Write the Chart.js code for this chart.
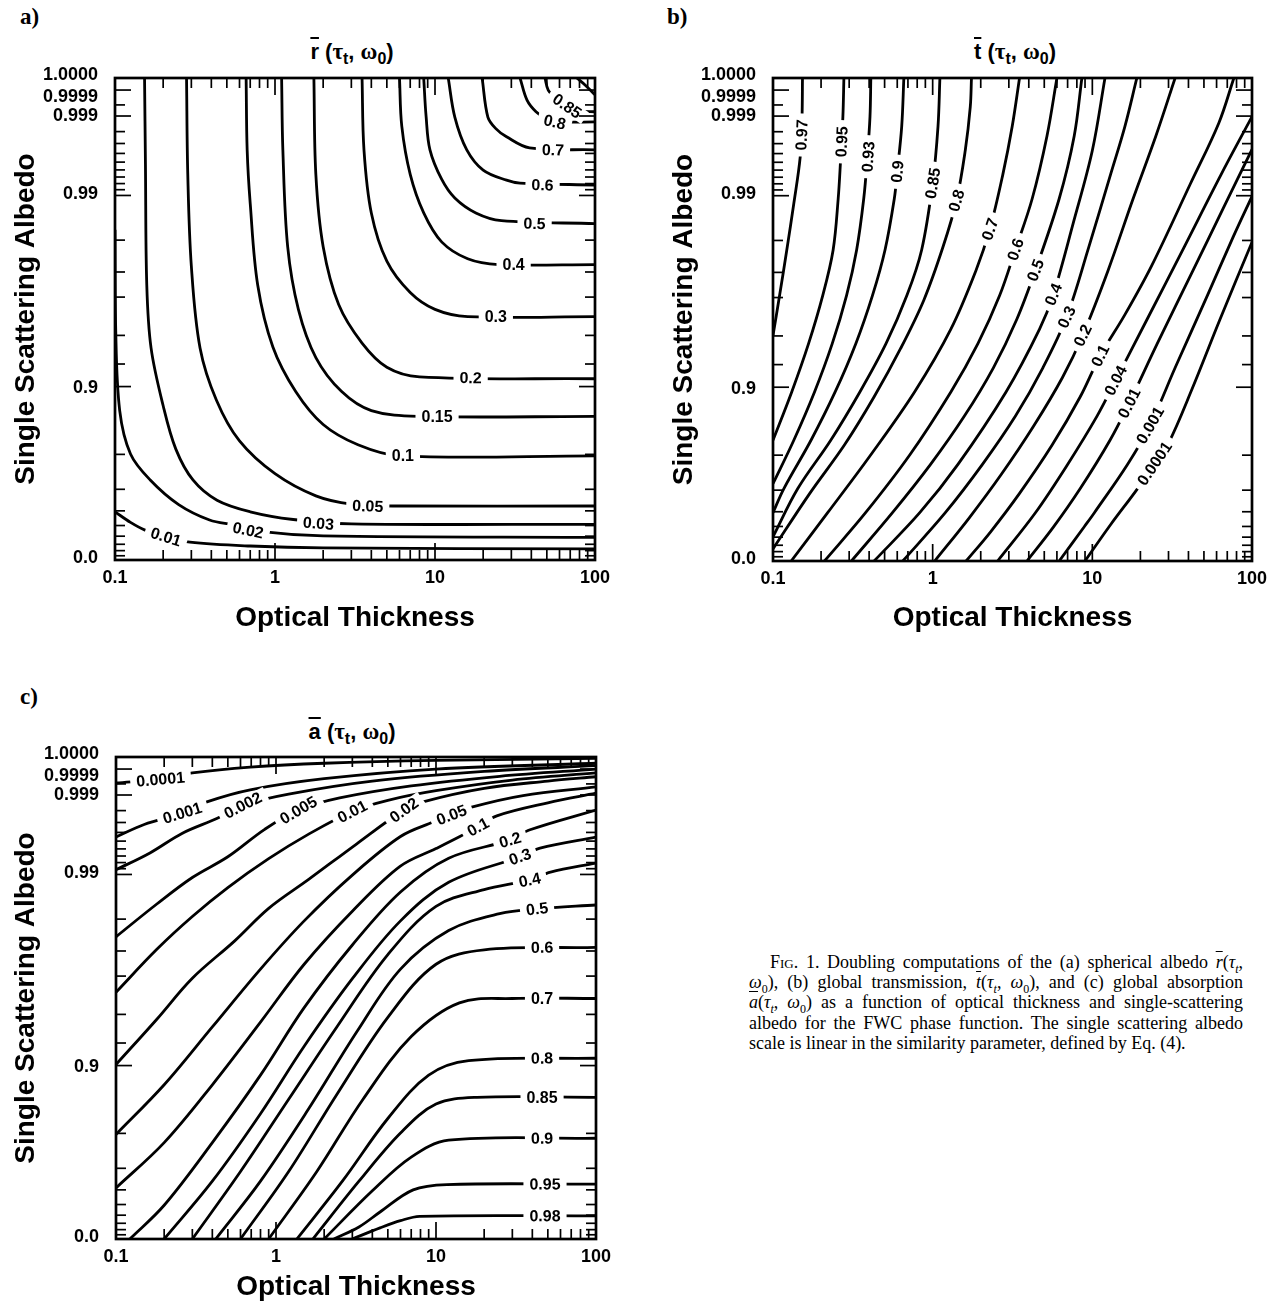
<!DOCTYPE html>
<html>
<head>
<meta charset="utf-8">
<script src="https://cdn.jsdelivr.net/npm/chart.js@4.4.0/dist/chart.umd.min.js"></script>
<style>
body { margin: 0; background: #fff; width: 1275px; height: 1312px; overflow: hidden; position: relative; }
canvas { position: absolute; }
.plab { position: absolute; font: bold 23px "Liberation Serif", serif; }
.ttl { position: absolute; font: bold 22px "Liberation Sans", sans-serif; transform: translateX(-50%); white-space: nowrap; }
.ttl .gr { font-family: "Liberation Serif", serif; font-weight: bold; font-size: 23px; }
.ttl sub { font-size: 16px; }
.ov { text-decoration: overline; }
.cap { position: absolute; left: 749px; top: 952px; width: 494px; font: 18px/20.2px "Liberation Serif", serif; color: #000; }
.cap div { text-align: justify; text-align-last: justify; white-space: nowrap; }
.cap div.last { text-align-last: left; }
.cap sub { font-size: 12px; line-height: 0; }
.sc { font-variant: small-caps; }
</style>
</head>
<body>
<div class="plab" style="left:20px;top:4px">a)</div>
<div class="plab" style="left:667px;top:4px">b)</div>
<div class="plab" style="left:20px;top:684px">c)</div>

<div class="ttl" style="left:352px;top:39px"><span class="ov">r</span> (<span class="gr">τ</span><sub>t</sub>, <span class="gr">ω</span><sub>0</sub>)</div>
<div class="ttl" style="left:1015px;top:39px"><span class="ov">t</span> (<span class="gr">τ</span><sub>t</sub>, <span class="gr">ω</span><sub>0</sub>)</div>
<div class="ttl" style="left:352px;top:719px"><span class="ov">a</span> (<span class="gr">τ</span><sub>t</sub>, <span class="gr">ω</span><sub>0</sub>)</div>

<canvas id="ca" width="620" height="650" style="left:0;top:0"></canvas>
<canvas id="cb" width="617" height="650" style="left:658px;top:0"></canvas>
<canvas id="cc" width="620" height="632" style="left:0;top:680px"></canvas>

<div class="cap">
<div style="padding-left:21px"><span class="sc">Fig</span>. 1. Doubling computations of the (a) spherical albedo <i class="ov">r</i>(<i>τ<sub>t</sub></i>,</div>
<div><i>ω</i><sub>0</sub>), (b) global transmission, <i class="ov">t</i>(<i>τ<sub>t</sub></i>, <i>ω</i><sub>0</sub>), and (c) global absorption</div>
<div><i class="ov">a</i>(<i>τ<sub>t</sub></i>, <i>ω</i><sub>0</sub>) as a function of optical thickness and single-scattering</div>
<div>albedo for the FWC phase function. The single scattering albedo</div>
<div class="last">scale is linear in the similarity parameter, defined by Eq. (4).</div>
</div>

<script>
// y axis is linear in the similarity parameter s = sqrt((1-w)/(1-g w)), s = 0 at the top (w = 1)
var G = 0.84;

var tauMajor = [0.1, 1, 10, 100];
var tauLabels = ['0.1', '1', '10', '100'];

var albedoMajor = [0, 0.9, 0.99, 0.999, 0.9999, 1];
var albedoLabels = ['0.0', '0.9', '0.99', '0.999', '0.9999', '1.0000'];
var albedoLabelY = [0.996, 0.643, 0.241, 0.079, 0.039, -0.006]; // where the labels sit (s)
var albedoMinor = [0.1, 0.2, 0.3, 0.4, 0.5, 0.6, 0.7, 0.8, 0.92, 0.94, 0.96, 0.97, 0.98,
    0.991, 0.992, 0.993, 0.994, 0.995, 0.996, 0.997, 0.998, 0.9995];

// ---- a) spherical albedo, points are [tau, s]
var rLevels = ['0.01', '0.02', '0.03', '0.05', '0.1', '0.15', '0.2', '0.3', '0.4', '0.5', '0.6', '0.7', '0.8', '0.85', ''];
var rCurves = [
    [[0.1, 0.90], [0.125, 0.922], [0.154, 0.938], [0.21, 0.952], [0.294, 0.963], [0.7, 0.971], [2, 0.975], [100, 0.977]],
    [[0.1, 0.315], [0.101, 0.52], [0.107, 0.69], [0.125, 0.78], [0.166, 0.834], [0.25, 0.885], [0.39, 0.917], [0.55, 0.927], [0.9, 0.942], [2, 0.95], [100, 0.953]],
    [[0.153, 0], [0.155, 0.18], [0.158, 0.43], [0.168, 0.56], [0.2, 0.68], [0.24, 0.77], [0.307, 0.834], [0.434, 0.876], [0.7, 0.9], [1.3, 0.916], [3, 0.925], [100, 0.926]],
    [[0.28, 0], [0.285, 0.2], [0.3, 0.39], [0.34, 0.56], [0.43, 0.668], [0.6, 0.753], [1, 0.821], [1.8, 0.867], [3, 0.884], [6, 0.888], [100, 0.888]],
    [[0.66, 0], [0.67, 0.15], [0.7, 0.26], [0.78, 0.43], [0.97, 0.558], [1.35, 0.651], [2, 0.719], [3.3, 0.761], [6, 0.784], [100, 0.784]],
    [[1.1, 0], [1.12, 0.15], [1.2, 0.35], [1.4, 0.48], [1.8, 0.58], [2.6, 0.65], [4, 0.69], [8, 0.702], [100, 0.702]],
    [[1.75, 0], [1.8, 0.2], [2, 0.35], [2.5, 0.47], [3.5, 0.55], [5, 0.6], [8, 0.62], [100, 0.624]],
    [[3.5, 0], [3.6, 0.15], [4, 0.28], [5, 0.38], [7, 0.445], [10, 0.48], [16, 0.495], [100, 0.495]],
    [[6, 0], [6.2, 0.1], [7, 0.2], [8.5, 0.28], [11, 0.34], [16, 0.375], [25, 0.387], [100, 0.387]],
    [[8.5, 0], [8.8, 0.08], [9.3, 0.149], [11, 0.21], [13.3, 0.249], [18, 0.28], [26, 0.296], [100, 0.302]],
    [[12.1, 0], [13.3, 0.081], [15.8, 0.149], [20, 0.191], [28, 0.212], [34, 0.218], [100, 0.222]],
    [[19.7, 0], [21.4, 0.081], [24, 0.105], [28, 0.122], [39, 0.145], [100, 0.149]],
    [[34, 0], [37.6, 0.046], [42.8, 0.07], [50, 0.085], [60, 0.091], [100, 0.091]],
    [[48.7, 0], [51, 0.025], [57, 0.042], [67, 0.058], [80, 0.068], [100, 0.07]],
    [[77, 0], [87, 0.015], [100, 0.035]]
];
var rLabelAt = [[0.208, 0.952], [0.68, 0.938], [1.87, 0.924], [3.8, 0.888], [6.3, 0.784], [10.3, 0.702], [16.7, 0.622],
    [24, 0.495], [31, 0.387], [41.9, 0.302], [47, 0.222], [54.6, 0.149], [56, 0.091], [67, 0.058], null];

// ---- b) global transmission
var tLevels = ['0.97', '0.95', '0.93', '0.9', '0.85', '0.8', '0.7', '0.6', '0.5', '0.4', '0.3', '0.2', '0.1', '0.04', '0.01', '0.001', '0.0001'];
var tCurves = [
    [[0.1, 0.533], [0.11, 0.45], [0.122, 0.356], [0.135, 0.26], [0.148, 0.164], [0.152, 0.08], [0.153, 0]],
    [[0.1, 0.75], [0.131, 0.65], [0.167, 0.55], [0.205, 0.45], [0.238, 0.356], [0.256, 0.25], [0.265, 0.17], [0.274, 0.08], [0.278, 0]],
    [[0.1, 0.84], [0.135, 0.75], [0.182, 0.65], [0.235, 0.55], [0.289, 0.45], [0.334, 0.356], [0.37, 0.25], [0.39, 0.163], [0.405, 0.08], [0.41, 0]],
    [[0.1, 0.9], [0.117, 0.85], [0.173, 0.75], [0.245, 0.65], [0.33, 0.55], [0.42, 0.45], [0.503, 0.356], [0.575, 0.25], [0.6, 0.194], [0.64, 0.1], [0.66, 0]],
    [[0.1, 0.95], [0.143, 0.85], [0.23, 0.75], [0.35, 0.65], [0.51, 0.55], [0.69, 0.45], [0.853, 0.356], [1.0, 0.218], [1.08, 0.1], [1.11, 0]],
    [[0.1, 0.975], [0.17, 0.86], [0.28, 0.76], [0.43, 0.66], [0.63, 0.56], [0.88, 0.46], [1.16, 0.35], [1.41, 0.254], [1.6, 0.15], [1.72, 0.06], [1.75, 0]],
    [[0.13, 1], [0.22, 0.9], [0.41, 0.78], [0.77, 0.65], [1.3, 0.52], [1.86, 0.4], [2.28, 0.313], [2.75, 0.2], [3.15, 0.1], [3.5, 0]],
    [[0.21, 1], [0.38, 0.9], [0.72, 0.78], [1.3, 0.65], [1.92, 0.55], [2.63, 0.45], [3.3, 0.355], [4.2, 0.25], [5.2, 0.12], [6, 0]],
    [[0.31, 1], [0.56, 0.9], [0.97, 0.8], [1.58, 0.7], [2.4, 0.6], [3.36, 0.5], [4.4, 0.398], [6.2, 0.25], [7.7, 0.12], [8.6, 0]],
    [[0.43, 1], [0.83, 0.9], [1.44, 0.8], [2.88, 0.65], [4.67, 0.52], [5.7, 0.448], [7.6, 0.3], [10, 0.15], [12, 0]],
    [[0.65, 1], [1.2, 0.9], [2.05, 0.8], [3.3, 0.7], [4.9, 0.6], [6.9, 0.495], [9.5, 0.35], [13, 0.2], [16, 0.1], [19, 0]],
    [[1.03, 1], [1.7, 0.91], [2.7, 0.82], [4.3, 0.72], [6.5, 0.62], [8.7, 0.533], [12.5, 0.4], [18, 0.25], [25, 0.12], [33, 0]],
    [[1.62, 1], [2.3, 0.94], [3.5, 0.86], [5.6, 0.76], [8.4, 0.66], [11.2, 0.575], [16, 0.49], [23.5, 0.389], [41, 0.22], [62, 0.093], [77, 0]],
    [[2.55, 1], [4.4, 0.9], [7, 0.8], [10.7, 0.7], [14, 0.626], [22, 0.5], [37.6, 0.35], [64, 0.2], [100, 0.08]],
    [[3.9, 1], [5.7, 0.93], [8.4, 0.85], [12.9, 0.75], [17, 0.673], [25.5, 0.55], [42.5, 0.4], [66, 0.27], [100, 0.148]],
    [[6.2, 1], [8.9, 0.929], [10.3, 0.9], [16.6, 0.8], [23, 0.719], [33, 0.6], [52.6, 0.45], [76, 0.33], [100, 0.245]],
    [[9, 1], [13, 0.925], [19.3, 0.849], [24.5, 0.798], [30, 0.756], [42, 0.645], [62.8, 0.501], [100, 0.34]]
];
var tLabelAt = [[0.151, 0.118], [0.269, 0.132], [0.394, 0.163], [0.6, 0.194], [1.0, 0.218], [1.41, 0.254], [2.28, 0.313],
    [3.3, 0.355], [4.4, 0.398], [5.7, 0.448], [6.9, 0.495], [8.7, 0.533], [11.2, 0.575], [14, 0.626], [17, 0.673],
    [23, 0.719], [24.5, 0.798]];

// ---- c) global absorption
var aLevels = ['0.0001', '0.001', '0.002', '0.005', '0.01', '0.02', '0.05', '0.1', '0.2', '0.3', '0.4', '0.5',
    '0.6', '0.7', '0.8', '0.85', '0.9', '0.95', '0.98'];
var aCurves = [
    [[0.1, 0.054], [0.19, 0.046], [0.3, 0.033], [0.69, 0.021], [2, 0.013], [10, 0.007], [100, 0.003]],
    [[0.1, 0.166], [0.15, 0.14], [0.26, 0.116], [0.37, 0.093], [0.69, 0.068], [2, 0.045], [10, 0.025], [100, 0.013]],
    [[0.1, 0.234], [0.163, 0.199], [0.26, 0.158], [0.43, 0.127], [0.62, 0.1], [1.2, 0.077], [4, 0.05], [20, 0.03], [100, 0.018]],
    [[0.1, 0.373], [0.18, 0.305], [0.3, 0.25], [0.5, 0.207], [0.85, 0.15], [1.38, 0.11], [2.5, 0.085], [7, 0.06], [25, 0.04], [100, 0.025]],
    [[0.1, 0.488], [0.18, 0.399], [0.3, 0.331], [0.5, 0.271], [0.9, 0.211], [1.6, 0.16], [3.0, 0.113], [5, 0.09], [10, 0.07], [30, 0.048], [100, 0.033]],
    [[0.1, 0.638], [0.18, 0.544], [0.3, 0.459], [0.55, 0.382], [0.9, 0.314], [1.6, 0.254], [3.2, 0.18], [6.3, 0.11], [8.3, 0.093], [20, 0.065], [50, 0.05], [100, 0.041]],
    [[0.1, 0.783], [0.2, 0.68], [0.4, 0.56], [0.8, 0.44], [1.5, 0.34], [3, 0.245], [6, 0.165], [9.6, 0.135], [12.5, 0.12], [16.7, 0.104], [35, 0.08], [100, 0.062]],
    [[0.1, 0.894], [0.2, 0.8], [0.4, 0.68], [0.8, 0.55], [1.5, 0.43], [3, 0.32], [5.96, 0.227], [10, 0.19], [14.1, 0.165], [18.3, 0.145], [24, 0.122], [50, 0.095], [100, 0.075]],
    [[0.122, 1], [0.2, 0.93], [0.4, 0.8], [0.8, 0.66], [1.5, 0.52], [3, 0.39], [6, 0.28], [12, 0.21], [29, 0.172], [38.7, 0.151], [100, 0.11]],
    [[0.2, 1], [0.4, 0.88], [0.8, 0.74], [1.5, 0.6], [3, 0.46], [6, 0.34], [12, 0.26], [33.5, 0.207], [44.7, 0.189], [100, 0.166]],
    [[0.3, 1], [0.6, 0.86], [1.2, 0.71], [2.4, 0.56], [5, 0.41], [10, 0.31], [20, 0.275], [38.5, 0.255], [52, 0.239], [100, 0.22]],
    [[0.42, 1], [0.8, 0.88], [1.6, 0.73], [3.2, 0.57], [6, 0.44], [12, 0.36], [25, 0.325], [42.8, 0.315], [100, 0.307]],
    [[0.6, 1], [1.2, 0.86], [2.4, 0.7], [5, 0.54], [10, 0.43], [20, 0.4], [100, 0.395]],
    [[0.9, 1], [1.8, 0.86], [3.5, 0.71], [7, 0.58], [14, 0.51], [30, 0.501], [100, 0.501]],
    [[1.35, 1], [2.6, 0.88], [5, 0.75], [9, 0.66], [16, 0.63], [100, 0.625]],
    [[1.7, 1], [3.3, 0.88], [6, 0.78], [10, 0.72], [18, 0.706], [100, 0.706]],
    [[2, 1], [4, 0.9], [7, 0.83], [12, 0.795], [100, 0.791]],
    [[2.3, 1], [3.3, 0.975], [4.47, 0.944], [7.2, 0.898], [11.7, 0.887], [100, 0.886]],
    [[3, 1], [4.47, 0.977], [6, 0.962], [7.9, 0.953], [100, 0.952]]
];
var aLabelAt = [[0.19, 0.046], [0.26, 0.116], [0.62, 0.1], [1.38, 0.11], [3.0, 0.113], [6.3, 0.11], [12.5, 0.12],
    [18.3, 0.145], [29, 0.172], [33.5, 0.207], [38.5, 0.255], [42.8, 0.315], [46, 0.395], [46, 0.501], [46, 0.625],
    [46, 0.706], [46, 0.791], [48, 0.886], [48, 0.952]];

function simil(w) { return Math.sqrt((1 - w) / (1 - G * w)); }

var tauMinor = [];
[0.1, 1, 10].forEach(function (d) { for (var k = 2; k <= 9; k++) tauMinor.push(d * k); });

function segDist(px, py, a, b) {
    var dx = b.x - a.x, dy = b.y - a.y, l = dx * dx + dy * dy;
    var t = l ? ((px - a.x) * dx + (py - a.y) * dy) / l : 0;
    t = Math.max(0, Math.min(1, t));
    var qx = a.x + t * dx - px, qy = a.y + t * dy - py;
    return Math.sqrt(qx * qx + qy * qy);
}

// contour labels: white box over the line, text turned along the curve
var labelPlugin = {
    id: 'contourLabels',
    afterDatasetsDraw: function (chart) {
        var ctx = chart.ctx, xs = chart.scales.x, ys = chart.scales.y;
        chart.data.datasets.forEach(function (ds, i) {
            if (!ds.labelAt || !ds.label) return;
            var pts = chart.getDatasetMeta(i).data;
            var px = xs.getPixelForValue(ds.labelAt[0]), py = ys.getPixelForValue(ds.labelAt[1]);
            var best = 1e9, ang = 0;
            for (var k = 0; k < pts.length - 1; k++) {
                var d = segDist(px, py, pts[k], pts[k + 1]);
                if (d < best) { best = d; ang = Math.atan2(pts[k + 1].y - pts[k].y, pts[k + 1].x - pts[k].x); }
            }
            if (ang > Math.PI / 2) ang -= Math.PI;
            if (ang < -Math.PI / 2) ang += Math.PI;
            ctx.save();
            ctx.translate(px, py);
            ctx.rotate(ang);
            ctx.font = 'bold 16px "Liberation Sans", sans-serif';
            var w = ctx.measureText(ds.label).width;
            ctx.fillStyle = '#fff';
            ctx.fillRect(-w / 2 - 6, -7, w + 12, 14);
            ctx.fillStyle = '#000';
            ctx.textAlign = 'center';
            ctx.textBaseline = 'middle';
            ctx.fillText(ds.label, 0, 1);
            ctx.restore();
        });
    }
};

// frame with inward ticks on all four sides
var framePlugin = {
    id: 'frame',
    afterDatasetsDraw: function (chart) {
        var ctx = chart.ctx, a = chart.chartArea, xs = chart.scales.x, ys = chart.scales.y;
        function seg(x1, y1, x2, y2) { ctx.beginPath(); ctx.moveTo(x1, y1); ctx.lineTo(x2, y2); ctx.stroke(); }
        ctx.save();
        ctx.strokeStyle = '#000';
        ctx.lineWidth = 1.7;
        tauMinor.concat(tauMajor).forEach(function (v) {
            var len = tauMajor.indexOf(v) >= 0 ? 17 : 10;
            var x = xs.getPixelForValue(v);
            seg(x, a.bottom, x, a.bottom - len);
            seg(x, a.top, x, a.top + len);
        });
        albedoMinor.concat(albedoMajor).forEach(function (w) {
            var len = albedoMajor.indexOf(w) >= 0 ? 16 : 10;
            var y = ys.getPixelForValue(simil(w));
            seg(a.left, y, a.left + len, y);
            seg(a.right, y, a.right - len, y);
        });
        ctx.lineWidth = 2.7;
        ctx.strokeRect(a.left, a.top, a.right - a.left, a.bottom - a.top);
        ctx.restore();
    }
};

function makePanel(id, box, levels, curves, labelAt) {
    var tickFont = {family: '"Liberation Sans", sans-serif', weight: 'bold', size: 18};
    var titleFont = {family: '"Liberation Sans", sans-serif', weight: 'bold', size: 28};
    var datasets = curves.map(function (c, i) {
        return {
            label: levels[i],
            labelAt: labelAt[i],
            data: c.map(function (p) { return {x: p[0], y: p[1]}; }),
            showLine: true,
            borderColor: '#000',
            borderWidth: 2.8,
            pointRadius: 0,
            tension: 0.35,
            fill: false
        };
    });
    return new Chart(document.getElementById(id), {
        type: 'scatter',
        data: {datasets: datasets},
        options: {
            responsive: false,
            animation: false,
            events: [],
            layout: {padding: {top: box.top, right: box.right, left: 0, bottom: 0}},
            plugins: {legend: {display: false}, tooltip: {enabled: false}},
            scales: {
                x: {
                    type: 'logarithmic',
                    min: 0.1,
                    max: 100,
                    afterFit: function (s) { s.height = box.xh; },
                    afterBuildTicks: function (s) { s.ticks = tauMajor.map(function (v) { return {value: v}; }); },
                    ticks: {
                        autoSkip: false, maxRotation: 0, color: '#000', font: tickFont, padding: 7,
                        callback: function (v, i) { return tauLabels[i]; }
                    },
                    grid: {display: false, drawTicks: false},
                    border: {display: false},
                    title: {display: true, text: 'Optical Thickness', color: '#000', font: titleFont,
                        padding: {top: 0, bottom: box.xtp}}
                },
                y: {
                    type: 'linear',
                    min: 0,
                    max: 1,
                    reverse: true,
                    afterFit: function (s) { s.width = box.yw; },
                    afterBuildTicks: function (s) { s.ticks = albedoLabelY.map(function (v) { return {value: v}; }); },
                    ticks: {
                        autoSkip: false, color: '#000', font: tickFont, padding: 17,
                        callback: function (v, i) { return albedoLabels[i]; }
                    },
                    grid: {display: false, drawTicks: false},
                    border: {display: false},
                    title: {display: true, text: 'Single Scattering Albedo', color: '#000', font: titleFont,
                        padding: {top: box.ytp, bottom: 0}}
                }
            }
        },
        plugins: [labelPlugin, framePlugin]
    });
}

makePanel('ca', {top: 78, right: 25, yw: 115, xh: 90, xtp: 15, ytp: 9}, rLevels, rCurves, rLabelAt);
makePanel('cb', {top: 78, right: 23, yw: 115, xh: 89, xtp: 15, ytp: 9}, tLevels, tCurves, tLabelAt);
makePanel('cc', {top: 77, right: 24, yw: 116, xh: 73, xtp: 8, ytp: 9}, aLevels, aCurves, aLabelAt);
</script>
</body>
</html>
